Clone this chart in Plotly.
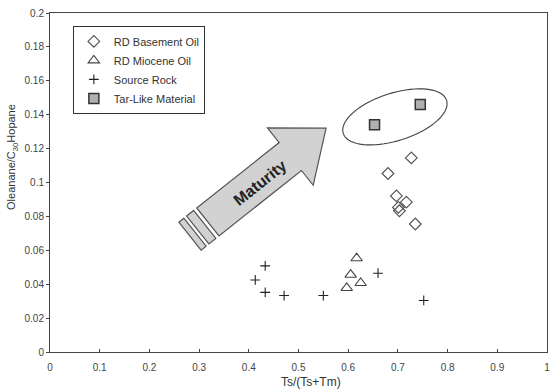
import math
import plotly.graph_objects as go

# ---------------- data ----------------
basement_x = [0.727, 0.680, 0.697, 0.717, 0.701, 0.703, 0.735]
basement_y = [0.1145, 0.1053, 0.0921, 0.0884, 0.0853, 0.0833, 0.0755]

miocene_x = [0.617, 0.605, 0.625, 0.597]
miocene_y = [0.0553, 0.0456, 0.0407, 0.0378]

source_x = [0.433, 0.413, 0.433, 0.471, 0.550, 0.660, 0.752]
source_y = [0.0508, 0.0425, 0.0352, 0.0333, 0.0333, 0.0465, 0.0304]

tar_x = [0.653, 0.745]
tar_y = [0.134, 0.146]

x_ticks = [0, 0.1, 0.2, 0.3, 0.4, 0.5, 0.6, 0.7, 0.8, 0.9, 1]
y_ticks = [0, 0.02, 0.04, 0.06, 0.08, 0.1, 0.12, 0.14, 0.16, 0.18, 0.2]

# ---------------- layout geometry ----------------
W, H = 557, 389
ML, MR, MT, MB = 50, 7, 10, 37
PW, PH = W - ML - MR, H - MT - MB
XR = [0, 1]
YR = [0, 0.2]


def px2d(px, py):
    """pixel (page) -> data coords"""
    x = XR[0] + (px - ML) / PW * (XR[1] - XR[0])
    y = YR[0] + (MT + PH - py) / PH * (YR[1] - YR[0])
    return x, y


def path_from_px(pts):
    out = []
    for i, (px, py) in enumerate(pts):
        x, y = px2d(px, py)
        out.append(("M" if i == 0 else "L") + f"{x:.5f},{y:.5f}")
    return " ".join(out) + " Z"


# arrow in local frame
th = math.radians(38.5)
d = (math.cos(th), -math.sin(th))
n = (math.sin(th), math.cos(th))
B = (208.8, 220.8)


def loc(s, t):
    return (B[0] + s * d[0] + t * n[0], B[1] + s * d[1] + t * n[1])


shaft_len, shaft_hw, head_len, head_hw = 106, 18, 46, 37
arrow_pts = [loc(0, -shaft_hw), loc(shaft_len, -shaft_hw), loc(shaft_len, -head_hw),
             loc(shaft_len + head_len, 0), loc(shaft_len, head_hw),
             loc(shaft_len, shaft_hw), loc(0, shaft_hw)]
stripe1 = [loc(-13, -shaft_hw), loc(-4, -shaft_hw), loc(-4, shaft_hw), loc(-13, shaft_hw)]
stripe2 = [loc(-23, -shaft_hw), loc(-16.5, -shaft_hw), loc(-16.5, shaft_hw), loc(-23, shaft_hw)]

# ellipse
ec = (397, 114.8)
ea, eb, ephi = 54.6, 24, math.radians(17.8)
ell_pts = []
for k in range(73):
    a = 2 * math.pi * k / 72
    ux, uy = ea * math.cos(a), eb * math.sin(a)
    ell_pts.append((ec[0] + ux * math.cos(ephi) + uy * math.sin(ephi),
                    ec[1] - ux * math.sin(ephi) + uy * math.cos(ephi)))

fig = go.Figure()
fig.add_trace(go.Scatter(x=basement_x, y=basement_y, mode="markers", name="RD Basement Oil",
                         marker=dict(symbol="diamond-open", size=9, color="#555",
                                     line=dict(width=1.2, color="#555"))))
fig.add_trace(go.Scatter(x=miocene_x, y=miocene_y, mode="markers", name="RD Miocene Oil",
                         marker=dict(symbol="triangle-up-open", size=10, color="#444",
                                     line=dict(width=1.1, color="#444"))))
fig.add_trace(go.Scatter(x=source_x, y=source_y, mode="markers", name="Source Rock",
                         marker=dict(symbol="cross-thin-open", size=7, color="#222",
                                     line=dict(width=1.1, color="#222"))))
fig.add_trace(go.Scatter(x=tar_x, y=tar_y, mode="markers", name="Tar-Like Material",
                         marker=dict(symbol="square", size=10, color="#b0b0b0",
                                     line=dict(width=1.5, color="#333"))))

shapes = [
    dict(type="path", path=path_from_px(arrow_pts), xref="x", yref="y",
         fillcolor="#d2d2d2", line=dict(color="#555", width=1.2), layer="below"),
    dict(type="path", path=path_from_px(stripe1), xref="x", yref="y",
         fillcolor="#d2d2d2", line=dict(color="#555", width=1.2), layer="below"),
    dict(type="path", path=path_from_px(stripe2), xref="x", yref="y",
         fillcolor="#d2d2d2", line=dict(color="#555", width=1.2), layer="below"),
    dict(type="path", path=path_from_px(ell_pts), xref="x", yref="y",
         line=dict(color="#444", width=1.1), layer="below"),
]
mx, my = px2d(*loc(66, 2))

fig.update_layout(
    width=W, height=H,
    margin=dict(l=ML, r=MR, t=MT, b=MB),
    paper_bgcolor="white", plot_bgcolor="white",
    font=dict(family="Liberation Sans, Arial, sans-serif", size=11, color="#333"),
    shapes=shapes,
    showlegend=True,
    legend=dict(x=0.046, y=0.962, xanchor="left", yanchor="top",
                bordercolor="#333", borderwidth=1, bgcolor="white",
                font=dict(size=11, color="#333"), tracegroupgap=0),
    annotations=[
        dict(x=mx, y=my, xref="x", yref="y", text="<b>Maturity</b>", showarrow=False,
             textangle=-38.5, font=dict(size=16, color="#222")),
        dict(x=(12 - ML) / PW, y=(MT + PH - 155) / PH, xref="paper", yref="paper",
             xanchor="center", yanchor="middle",
             text="Oleanane/C<sub>30</sub>Hopane", showarrow=False, textangle=-90,
             font=dict(size=11, color="#333")),
        dict(x=(313 - ML) / PW, y=(MT + PH - 382) / PH, xref="paper", yref="paper",
             xanchor="center", yanchor="middle",
             text="Ts/(Ts+Tm)", showarrow=False, font=dict(size=12, color="#333")),
    ],
)
fig.update_xaxes(range=XR, tickvals=x_ticks, ticks="inside", ticklen=3, tickcolor="#444",
                 showline=True, linecolor="#444", linewidth=1, mirror=True,
                 ticklabelstandoff=6,
                 showgrid=False, zeroline=False, tickfont=dict(size=10, color="#444"))
fig.update_yaxes(range=YR, tickvals=y_ticks, ticks="outside", ticklen=3, tickcolor="#444",
                 showline=True, linecolor="#444", linewidth=1, mirror=True,
                 showgrid=False, zeroline=False, tickfont=dict(size=10, color="#444"))

fig.write_html("out.html")
